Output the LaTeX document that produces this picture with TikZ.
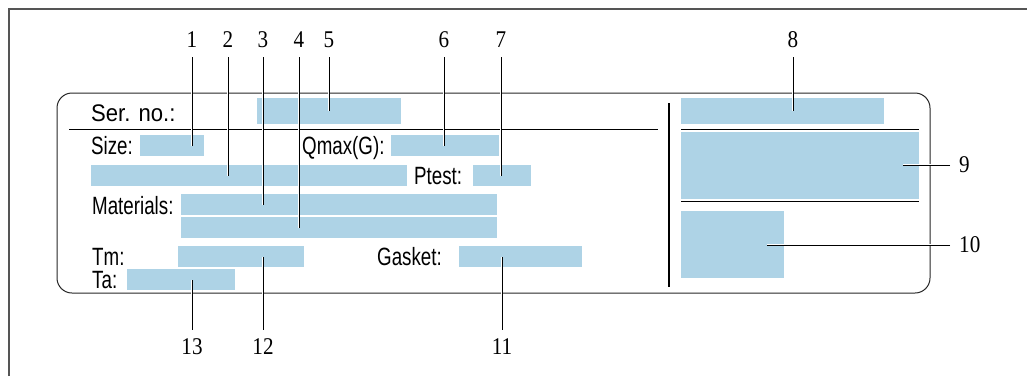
\documentclass[tikz,border=0pt]{standalone}
\usepackage{fontspec}
\newfontfamily\platefont[FakeStretch=0.75]{Liberation Sans}
\newfontfamily\serfont[FakeStretch=0.92]{Liberation Sans}
\newfontfamily\calloutfont[FakeStretch=0.88]{Liberation Serif}
\definecolor{fieldblue}{RGB}{174,211,230}
\definecolor{framegray}{RGB}{85,85,85}
\tikzset{
  field/.style={fill=fieldblue, draw=none, inner sep=0pt, anchor=north west},
  caption/.style={font=\platefont\fontsize{25}{25}\selectfont, inner sep=0pt, anchor=base west},
  callout/.style={font=\calloutfont\fontsize{24}{24}\selectfont, inner sep=0pt},
  leader/.style={line width=0.9pt, shorten <=9pt, preaction={draw=white, line width=2.4pt}},
}
\begin{document}
\begin{tikzpicture}[x=1pt, y=-1pt]
    \useasboundingbox (0,0) rectangle (1027,376);

    % Outer frame
    \draw[framegray, line width=2pt] (9,376) -- (9,9) -- (1027,9);

    % Name plate
    \draw[black!85, line width=1pt, rounded corners=15pt] (57,93) rectangle (930,293);
    \draw[line width=1pt] (69,129) -- (658,129);
    \draw[line width=2pt] (669,103) -- (669,287);
    \draw[line width=1pt] (681,129) -- (919,129);
    \draw[line width=1pt] (681,201) -- (919,201);

    % Fields (left part)
    \node[field, minimum width=144pt, minimum height=26pt] (ser) at (257,98) {};
    \node[field, minimum width=64pt, minimum height=21pt] (size) at (140,135) {};
    \node[field, minimum width=108pt, minimum height=21pt] (qmax) at (391,135) {};
    \node[field, minimum width=316pt, minimum height=21pt] (code) at (91,165) {};
    \node[field, minimum width=58pt, minimum height=21pt] (ptest) at (473,165) {};
    \node[field, minimum width=316pt, minimum height=21pt] (mat1) at (181,194) {};
    \node[field, minimum width=316pt, minimum height=21pt] (mat2) at (181,217) {};
    \node[field, minimum width=126pt, minimum height=21pt] (tm) at (178,246) {};
    \node[field, minimum width=123pt, minimum height=21pt] (gasket) at (459,246) {};
    \node[field, minimum width=108pt, minimum height=21pt] (ta) at (127,269) {};

    % Fields (right part)
    \node[field, minimum width=203pt, minimum height=26pt] (b8) at (681,98) {};
    \node[field, minimum width=238pt, minimum height=67pt] (b9) at (681,132) {};
    \node[field, minimum width=103pt, minimum height=67pt] (b10) at (681,211) {};

    % Captions
    \node[caption, font=\serfont\fontsize{24}{24}\selectfont] (tser) at (91,121.5) {Ser. no.:};
    \node[caption] (tsize) at (91,154.5) {Size:};
    \node[caption] (tqmax) at (302,154.5) {Qmax(G):};
    \node[caption] (tptest) at (414,184) {Ptest:};
    \node[caption] (tmat) at (92,214) {Materials:};
    \node[caption] (ttm) at (92,265) {Tm:};
    \node[caption] (tgasket) at (377,265.5) {Gasket:};
    \node[caption] (tta) at (92,288) {Ta:};

    % Callout numbers
    \node[callout] (n1) at (192,40) {1};
    \node[callout] (n2) at (228,40) {2};
    \node[callout] (n3) at (263,40) {3};
    \node[callout] (n4) at (299,40) {4};
    \node[callout] (n5) at (329,40) {5};
    \node[callout] (n6) at (444,40) {6};
    \node[callout] (n7) at (501,40) {7};
    \node[callout] (n8) at (793,40) {8};
    \node[callout, anchor=west] (n9) at (959,165) {9};
    \node[callout, anchor=west] (n10) at (959,245) {10};
    \node[callout] (n11) at (502,347) {11};
    \node[callout] (n12) at (263,347) {12};
    \node[callout] (n13) at (192,347) {13};

    % Leader lines
    \draw[leader] (n1) -- (n1 |- size.center);
    \draw[leader] (n2) -- (n2 |- code.center);
    \draw[leader] (n3) -- (n3 |- mat1.center);
    \draw[leader] (n4) -- (n4 |- mat2.center);
    \draw[leader] (n5) -- (n5 |- ser.center);
    \draw[leader] (n6) -- (n6 |- qmax.center);
    \draw[leader] (n7) -- (n7 |- ptest.center);
    \draw[leader] (n8) -- (n8 |- b8.center);
    \coordinate (e9) at ([xshift=-16pt]b9.east);
    \coordinate (e10) at ([xshift=-17pt]b10.east);
    \draw[leader] (n9) -- (n9 -| e9);
    \draw[leader] (n10) -- (n10 -| e10);
    \draw[leader] (n11) -- (n11 |- gasket.center);
    \draw[leader] (n12) -- (n12 |- tm.center);
    \draw[leader] (n13) -- (n13 |- ta.center);
\end{tikzpicture}
\end{document}
